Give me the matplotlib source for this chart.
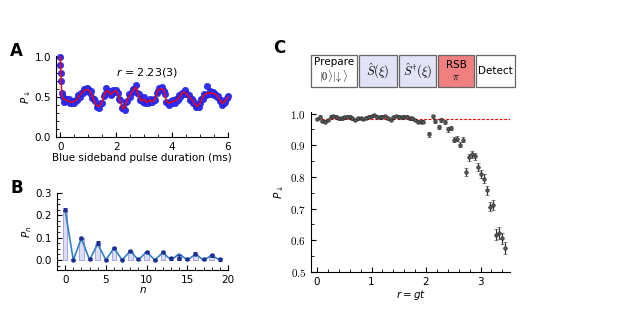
import numpy as np
import matplotlib
matplotlib.use("Agg")
import matplotlib.pyplot as plt
from matplotlib.patches import Rectangle
from matplotlib.font_manager import FontProperties
from matplotlib.ticker import MultipleLocator

# ---- panel A: blue sideband flopping ----
red_t = [0.0, 0.03, 0.06, 0.1, 0.2, 0.3, 0.4, 0.5, 0.6, 0.7, 0.8, 0.9, 1.0, 1.1, 1.2, 1.3,
         1.4, 1.5, 1.6, 1.7, 1.8, 1.9, 2.0, 2.1, 2.2, 2.25, 2.3, 2.4, 2.5, 2.6, 2.7, 2.8,
         2.9, 3.0, 3.1, 3.2, 3.3, 3.4, 3.5, 3.6, 3.7, 3.8, 3.9, 4.0, 4.1, 4.2, 4.3, 4.4,
         4.5, 4.6, 4.7, 4.8, 4.9, 5.0, 5.1, 5.2, 5.3, 5.4, 5.5, 5.6, 5.7, 5.8, 5.9, 6.0]
red_p = [1.0, 0.75, 0.52, 0.48, 0.46, 0.45, 0.43, 0.44, 0.47, 0.52, 0.56, 0.59, 0.59, 0.55,
         0.46, 0.39, 0.38, 0.45, 0.55, 0.58, 0.53, 0.56, 0.58, 0.50, 0.38, 0.35, 0.37, 0.47,
         0.52, 0.58, 0.62, 0.52, 0.45, 0.47, 0.43, 0.46, 0.44, 0.48, 0.59, 0.60, 0.59, 0.45,
         0.42, 0.44, 0.45, 0.47, 0.52, 0.56, 0.55, 0.50, 0.47, 0.42, 0.38, 0.42, 0.50, 0.54,
         0.55, 0.55, 0.54, 0.52, 0.47, 0.42, 0.45, 0.50]

blue_t0 = [0.01, 0.02, 0.03]
blue_p0 = [0.90, 0.80, 0.70]
blue_t = np.round(np.arange(0, 6.001, 0.05), 2)
blue_p = [1.00, 0.55, 0.50, 0.44, 0.47, 0.445, 0.48, 0.42, 0.43, 0.455, 0.42, 0.465, 0.46,
          0.525, 0.50, 0.55, 0.545, 0.595, 0.57, 0.605, 0.60, 0.545, 0.57, 0.49, 0.47, 0.45,
          0.37, 0.39, 0.36, 0.43, 0.43, 0.51, 0.54, 0.605, 0.56, 0.575, 0.52, 0.545, 0.58,
          0.555, 0.59, 0.55, 0.47, 0.46, 0.36, 0.37, 0.34, 0.44, 0.45, 0.53, 0.50, 0.56,
          0.60, 0.59, 0.65, 0.55, 0.53, 0.46, 0.47, 0.44, 0.50, 0.43, 0.44, 0.425, 0.48,
          0.44, 0.44, 0.48, 0.46, 0.55, 0.57, 0.61, 0.59, 0.625, 0.57, 0.54, 0.44, 0.43,
          0.40, 0.45, 0.42, 0.465, 0.43, 0.47, 0.46, 0.525, 0.50, 0.55, 0.54, 0.58, 0.53,
          0.535, 0.52, 0.465, 0.48, 0.43, 0.44, 0.38, 0.39, 0.38, 0.43, 0.48, 0.48, 0.53,
          0.52, 0.64, 0.53, 0.57, 0.54, 0.565, 0.52, 0.54, 0.50, 0.515, 0.45, 0.46, 0.40,
          0.43, 0.44, 0.49, 0.51]

# ---- panel B: phonon distribution ----
n_vals = list(range(20))
pn_theory = [0.223, 0.0, 0.097, 0.0, 0.072, 0.0, 0.053, 0.0, 0.040, 0.0, 0.037, 0.0,
             0.033, 0.0, 0.027, 0.0, 0.025, 0.0, 0.020, 0.0]
pn_meas = [0.225, 0.0, 0.097, 0.004, 0.077, 0.0, 0.055, 0.002, 0.040, 0.003, 0.036, 0.001,
           0.035, 0.008, 0.010, 0.005, 0.027, 0.004, 0.020, 0.003]
pn_err = [0.006, 0.004, 0.004, 0.004, 0.008, 0.004, 0.005, 0.004, 0.005, 0.004, 0.005,
          0.004, 0.006, 0.006, 0.010, 0.006, 0.007, 0.006, 0.007, 0.007]

# ---- panel C: squeeze / unsqueeze ----
r_vals = [0.0, 0.05, 0.10, 0.15, 0.20, 0.25, 0.30, 0.35, 0.40, 0.45, 0.50, 0.55, 0.60,
          0.65, 0.70, 0.75, 0.80, 0.85, 0.90, 0.95, 1.00, 1.05, 1.10, 1.15, 1.20, 1.25,
          1.30, 1.35, 1.40, 1.45, 1.50, 1.55, 1.60, 1.65, 1.70, 1.75, 1.80, 1.85, 1.90,
          1.95, 2.06, 2.12, 2.17, 2.23, 2.28, 2.34, 2.40, 2.45, 2.51, 2.56, 2.62, 2.67,
          2.73, 2.79, 2.84, 2.89, 2.95, 3.01, 3.06, 3.12, 3.17, 3.23, 3.29, 3.34, 3.39, 3.45]
p_down = [0.983, 0.99, 0.977, 0.975, 0.98, 0.99, 0.993, 0.99, 0.985, 0.985, 0.988, 0.99,
          0.99, 0.985, 0.98, 0.985, 0.986, 0.983, 0.987, 0.99, 0.993, 0.995, 0.99, 0.988,
          0.99, 0.993, 0.985, 0.98, 0.988, 0.993, 0.99, 0.988, 0.99, 0.99, 0.985, 0.985,
          0.98, 0.975, 0.975, 0.975, 0.934, 0.992, 0.976, 0.957, 0.981, 0.973, 0.950,
          0.954, 0.918, 0.920, 0.902, 0.918, 0.815, 0.862, 0.872, 0.865, 0.831, 0.810,
          0.795, 0.758, 0.706, 0.711, 0.618, 0.624, 0.606, 0.576]
p_err = [0.004] * 40 + [0.007, 0.005, 0.006, 0.007, 0.006, 0.006, 0.007, 0.007, 0.008,
                        0.008, 0.009, 0.008, 0.012, 0.011, 0.011, 0.011, 0.012, 0.012,
                        0.013, 0.014, 0.015, 0.016, 0.018, 0.019, 0.018, 0.019]
p_ref = 0.984

sequence = ["Prepare\n$|0\\rangle|\\!\\downarrow\\rangle$", "$\\hat{S}(\\xi)$",
            "$\\hat{S}^{\\dagger}(\\xi)$", "RSB\n$\\pi$", "Detect"]
seq_sizes = [7.5, 9, 9, 7.5, 7.5]
seq_colors = ["white", "#e3e3f8", "#e3e3f8", "#f08080", "white"]

plt.rcParams["font.size"] = 7.5
plt.rcParams["xtick.direction"] = "in"
plt.rcParams["ytick.direction"] = "in"

W, H = 622, 312
fig = plt.figure(figsize=(W / 100, H / 100), dpi=100)


def px_axes(x0, x1, y0, y1):
    return fig.add_axes([x0 / W, 1 - y1 / H, (x1 - x0) / W, (y1 - y0) / H])


def clean(ax):
    ax.spines["top"].set_visible(False)
    ax.spines["right"].set_visible(False)
    ax.tick_params(which="major", length=3.5, width=0.8, labelsize=7.5)
    ax.tick_params(which="minor", length=2, width=0.6)


# A
axA = px_axes(56, 228, 56, 137)
axA.plot(blue_t0, blue_p0, "o", ms=4.6, color="#2e2eff", mec="#1a1ac8", mew=0.4, clip_on=False)
axA.plot(blue_t, blue_p, "o", ms=4.6, color="#2e2eff", mec="#1a1ac8", mew=0.4, clip_on=False)
axA.plot(red_t, red_p, "-", color="red", lw=1.0, clip_on=False)
axA.set_xlim(-0.15, 6)
axA.set_ylim(0, 1.01)
axA.set_xticks([0, 2, 4, 6])
axA.set_yticks([0.0, 0.5, 1.0])
axA.xaxis.set_minor_locator(MultipleLocator(0.5))
axA.yaxis.set_minor_locator(MultipleLocator(0.1))
clean(axA)
axA.set_xlabel("Blue sideband pulse duration (ms)", fontsize=7.5, labelpad=1)
axA.set_ylabel("$P_{\\downarrow}$", fontsize=7.5, labelpad=1)
axA.text(3.1, 0.81, "$r$ = 2.23(3)", fontsize=8, ha="center", va="center")

# B
axB = px_axes(57, 228, 193, 270)
axB.bar(n_vals, pn_theory, width=0.55, color="#dcdcf5", edgecolor="#9a9ae2", lw=0.6)
axB.plot(n_vals, pn_theory, "-", color="#2f7fc4", lw=1.2)
axB.errorbar(n_vals, pn_meas, yerr=pn_err, fmt="o", ms=2.2, color="#1b2c92",
             capsize=1.3, elinewidth=0.7, capthick=0.7)
axB.set_xlim(-1, 20)
axB.set_ylim(-0.045, 0.3)
axB.set_xticks([0, 5, 10, 15, 20])
axB.set_yticks([0.0, 0.1, 0.2, 0.3])
axB.xaxis.set_minor_locator(MultipleLocator(1))
axB.yaxis.set_minor_locator(MultipleLocator(0.025))
clean(axB)
axB.set_xlabel("$n$", fontsize=7.5, labelpad=0)
axB.set_ylabel("$P_n$", fontsize=7.5, labelpad=1)

# C
axC = px_axes(311, 510, 112, 272)
axC.plot([0, 3.54], [p_ref, p_ref], "--", color="red", lw=0.8, dashes=(2.5, 1.5))
axC.errorbar(r_vals, p_down, yerr=p_err, fmt="o", ms=2.6, color="#333333",
             mfc="#555555", mec="#222222", mew=0.4, capsize=1.3, elinewidth=0.8, capthick=0.8)
axC.set_xlim(-0.11, 3.54)
axC.set_ylim(0.5, 1.005)
axC.set_xticks([0, 1, 2, 3])
axC.set_yticks([0.5, 0.6, 0.7, 0.8, 0.9, 1.0])
axC.xaxis.set_minor_locator(MultipleLocator(0.2))
axC.yaxis.set_minor_locator(MultipleLocator(0.05))
clean(axC)
cm = FontProperties(math_fontfamily="cm", size=8)
axC.set_yticklabels(["$%.1f$" % v for v in [0.5, 0.6, 0.7, 0.8, 0.9, 1.0]], fontproperties=cm)
axC.set_xlabel("$r = gt$", fontsize=7.5, labelpad=1)
axC.set_ylabel("$P_{\\downarrow}$", fontsize=7.5, labelpad=3)

# overlay for panel letters and the pulse sequence boxes
ov = fig.add_axes([0, 0, 1, 1])
ov.set_xlim(0, W)
ov.set_ylim(H, 0)
ov.axis("off")
for lab, (x, y) in zip("ABC", [(10, 51), (10, 188), (273, 48)]):
    ov.text(x, y, lab, fontsize=12, fontweight="bold", ha="left", va="center")

box_x = [(311, 357), (359, 397), (399, 436), (438, 474), (476, 515)]
for (x0, x1), lab, col, fs in zip(box_x, sequence, seq_colors, seq_sizes):
    ov.add_patch(Rectangle((x0, 55), x1 - x0, 32, facecolor=col, edgecolor="#666666", lw=0.9))
    ov.text((x0 + x1) / 2, 71, lab, ha="center", va="center",
            fontproperties=FontProperties(math_fontfamily="cm", size=fs), linespacing=1.2)

fig.savefig("out.png", dpi=100)
